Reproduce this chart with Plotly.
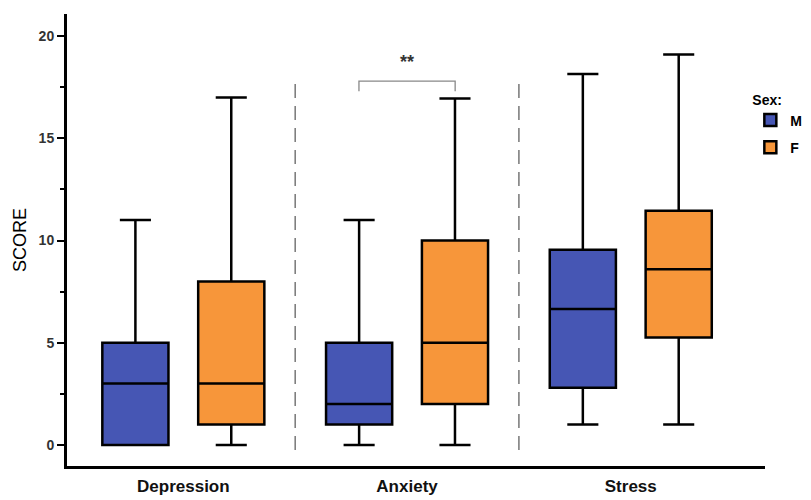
import plotly.graph_objects as go

categories = ["Depression", "Anxiety", "Stress"]
sexes = ["M", "F"]
colors = {"M": "#4656B4", "F": "#F7963A"}

# box statistics per sex, in category order
q1 = {"M": [0, 1, 2.8], "F": [1, 2, 5.25]}
median = {"M": [3, 2, 6.65], "F": [3, 5, 8.6]}
q3 = {"M": [5, 5, 9.55], "F": [8, 10, 11.45]}
lower = {"M": [0, 0, 1], "F": [0, 0, 1]}
upper = {"M": [11, 11, 18.15], "F": [17, 16.95, 19.1]}

yticks = [0, 5, 10, 15, 20]

fig = go.Figure()
for s in sexes:
    fig.add_trace(go.Box(
        name=s,
        legendgroup=s,
        x=categories,
        q1=q1[s], median=median[s], q3=q3[s],
        lowerfence=lower[s], upperfence=upper[s],
        fillcolor=colors[s],
        line=dict(color="black", width=2.5),
        whiskerwidth=0.47,
        boxpoints=False,
        hoverinfo="skip",
    ))

# dashed separators between categories
for xv in [0.5, 1.5]:
    fig.add_shape(type="line", xref="x", yref="y", x0=xv, x1=xv, y0=-0.25, y1=17.8,
                  line=dict(color="#777777", width=1.5, dash="14px,8px"))

# significance bracket for Anxiety M vs F
off = 0.215
fig.add_shape(type="path", xref="x", yref="y",
              path=f"M {1-off},17.3 L {1-off},17.8 L {1+off},17.8 L {1+off},17.3",
              line=dict(color="#888888", width=1.3))
fig.add_annotation(x=1, y=18.75, xref="x", yref="y", text="<b>**</b>", showarrow=False,
                   font=dict(size=18, color="#333333", family="Liberation Sans"))

fig.update_layout(
    width=803, height=492,
    margin=dict(l=59, r=46, t=6, b=34, autoexpand=False),
    paper_bgcolor="white", plot_bgcolor="white",
    boxmode="group", boxgap=0.143, boxgroupgap=0.31,
    font=dict(family="Liberation Sans, Arial, sans-serif", color="black"),
    legend=dict(
        title=dict(text="<b>Sex:</b>", font=dict(size=14)),
        x=0.979, y=0.84, xanchor="left", yanchor="top",
        font=dict(size=14, weight="bold"),
        bgcolor="rgba(0,0,0,0)", tracegroupgap=6, itemwidth=30,
        traceorder="grouped",
    ),
)
fig.update_xaxes(
    type="category", range=[-0.52, 2.6],
    showline=True, linecolor="black", linewidth=3,
    ticks="", showgrid=False, zeroline=False,
    tickfont=dict(size=17, weight="bold", color="#111111"),
    ticklabelstandoff=3,
)
fig.update_yaxes(
    range=[-1.03, 21.08],
    tickvals=yticks, ticktext=[str(v) for v in yticks],
    showline=True, linecolor="black", linewidth=3,
    ticks="outside", ticklen=7, tickwidth=2, tickcolor="black",
    minor=dict(dtick=2.5, ticks="outside", ticklen=4, tickwidth=2, tickcolor="black", tick0=0),
    showgrid=False, zeroline=False,
    tickfont=dict(size=14, weight="bold", color="#333333"),
    title=dict(text="SCORE", font=dict(size=18), standoff=8),
)

fig.write_html("out.html")
